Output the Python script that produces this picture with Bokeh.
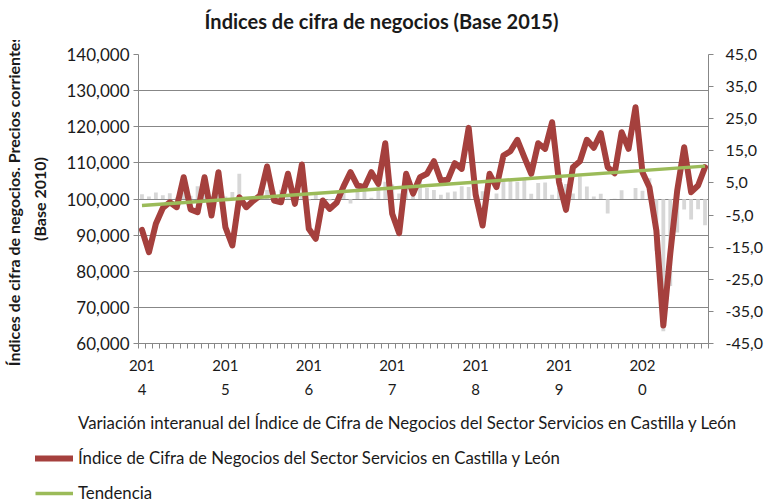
from bokeh.plotting import figure
from bokeh.models import (LinearAxis, Range1d, FixedTicker, Legend, LegendItem,
                          ColumnDataSource, Label)
from bokeh.embed import file_html
from bokeh.resources import INLINE

# ---------------- data ----------------
# monthly series, January 2014 .. October 2020
months = [f"{y}-{m:02d}" for y in range(2014, 2021) for m in range(1, 13)][:82]

indice = [
    91.47, 85.27, 93.13, 97.50, 99.10, 97.73, 106.03, 97.10, 96.34, 106.03, 95.43, 107.42,
    92.19, 87.13, 100.50, 97.73, 99.50, 100.97, 109.00, 99.58, 99.11, 106.98, 98.66, 109.55,
    91.75, 88.98, 99.58, 97.27, 98.94, 103.50, 107.42, 103.73, 103.27, 107.42, 104.20, 115.44,
    95.89, 90.53, 106.98, 101.50, 106.03, 106.98, 110.46, 105.12, 105.31, 109.91, 108.36, 119.70,
    101.24, 92.66, 106.98, 103.27, 112.04, 113.23, 116.39, 111.57, 106.98, 115.44, 113.90, 121.26,
    104.65, 97.00, 108.80, 110.46, 116.39, 114.17, 118.21, 108.80, 107.14, 118.50, 113.90, 125.42,
    107.42, 103.27, 91.27, 64.98, 84.83, 102.35, 114.34, 101.88, 103.73, 108.80,
]

variacion = [
    1.5, 0.8, 2.0, 1.2, 1.8, 0.5, 2.1, 1.0, 4.0, 2.4, 0.9, 1.7,
    0.8, 2.2, 7.9, 0.2, 0.4, 3.3, 2.8, 2.6, 2.9, 0.9, 3.4, 2.0,
    -0.5, 2.1, -0.9, -0.5, -0.6, 2.5, -1.4, 4.2, 4.2, 0.4, 5.6, 5.4,
    4.5, 1.7, 7.4, 4.3, 7.2, 3.4, 2.8, 1.3, 2.0, 2.3, 4.0, 3.7,
    5.6, 2.4, 0.0, 1.7, 5.7, 5.8, 5.4, 6.1, 1.6, 5.0, 5.1, 1.3,
    3.4, 4.7, 1.7, 7.0, 3.9, 0.8, 1.6, -4.5, 0.1, 2.7, 0.0, 3.4,
    2.6, 6.5, -16.1, -41.2, -27.1, -10.4, -3.3, -6.4, -3.2, -8.2,
]

tendencia_ini_fin = [98.2, 109.1]

year_top = ["201", "201", "201", "201", "201", "201", "202"]
year_bottom = ["4", "5", "6", "7", "8", "9", "0"]

left_ticks = [60, 70, 80, 90, 100, 110, 120, 130, 140]
left_labels = ["60,000", "70,000", "80,000", "90,000", "100,000",
               "110,000", "120,000", "130,000", "140,000"]
right_ticks = [-45, -35, -25, -15, -5, 5, 15, 25, 35, 45]
right_labels = ["-45,0", "-35,0", "-25,0", "-15,0", "-5,0",
                "5,0", "15,0", "25,0", "35,0", "45,0"]

title_text = "Índices de cifra de negocios (Base 2015)"
ylabel_1 = "Índices de cifra de negocios. Precios corrientes."
ylabel_2 = "(Base 2010)"
legend_labels = [
    "Variación interanual del Índice de Cifra de Negocios del Sector Servicios en Castilla y León",
    "Índice de Cifra de Negocios del Sector Servicios en Castilla y León",
    "Tendencia",
]

# ---------------- styling ----------------
FONT = "Lato"
RED = "#a5403d"
GREEN = "#9bbb59"
BAR = "#cdcdcd"
GRID = "#878787"
TXT = "#1a1a1a"

n = len(indice)
xs = list(range(n))
year_pos = [xs[i] for i in range(0, n, 12)]

# ---------------- title strip ----------------
tf = figure(width=765, height=40, output_backend="svg", toolbar_location=None,
            x_range=Range1d(0, 765), y_range=Range1d(0, 40), min_border=0,
            x_axis_type=None, y_axis_type=None, title_location=None)
tf.outline_line_color = None
tf.grid.visible = False
tf.border_fill_color = "white"
tf.background_fill_color = "white"
tf.add_layout(Label(x=381, y=20, text=title_text, text_align="center",
                    text_baseline="middle", text_font=FONT,
                    text_font_style="bold", text_font_size="20px",
                    text_color=TXT))

# ---------------- main chart ----------------
p = figure(width=765, height=363, output_backend="svg", toolbar_location=None,
           x_range=Range1d(-0.5, n - 0.5), y_range=Range1d(60, 140),
           min_border_left=138, min_border_right=0, min_border_top=14,
           min_border_bottom=60, title_location=None)
p.outline_line_color = None
p.background_fill_color = "white"
p.border_fill_color = "white"
p.extra_y_ranges = {"pct": Range1d(-45, 45)}

xa = p.below[0]
ya = p.left[0]

# grid
p.xgrid.visible = False
p.ygrid.ticker = FixedTicker(ticks=left_ticks)
p.ygrid.grid_line_color = GRID
p.ygrid.grid_line_width = 1

# left axis
ya.ticker = FixedTicker(ticks=left_ticks)
ya.major_label_overrides = {t: l for t, l in zip(left_ticks, left_labels)}
ya.axis_line_color = GRID
ya.major_tick_line_color = GRID
ya.major_tick_out = 5
ya.major_tick_in = 0
ya.minor_tick_line_color = None
ya.major_label_standoff = 4
ya.major_label_text_font = FONT
ya.major_label_text_font_size = "17px"
ya.major_label_text_color = TXT

# extra left "axes" carrying the two lines of the axis title
for txt, stand in [(ylabel_2, 15), (ylabel_1, 4)]:
    ax = LinearAxis(ticker=FixedTicker(ticks=[]), axis_label=txt,
                    axis_line_color=None, major_tick_line_color=None,
                    minor_tick_line_color=None, major_tick_out=0, major_tick_in=0,
                    minor_tick_out=0, minor_tick_in=0, major_label_standoff=0,
                    axis_label_standoff=stand, axis_label_text_font=FONT,
                    axis_label_text_font_style="bold",
                    axis_label_text_font_size="16px", axis_label_text_color=TXT)
    p.add_layout(ax, "left")

# right axis
ra = LinearAxis(y_range_name="pct", ticker=FixedTicker(ticks=right_ticks))
ra.major_label_overrides = {t: l for t, l in zip(right_ticks, right_labels)}
ra.axis_line_color = GRID
ra.major_tick_line_color = GRID
ra.major_tick_out = 5
ra.major_tick_in = 0
ra.minor_tick_line_color = None
ra.major_label_standoff = 12
ra.major_label_text_font = FONT
ra.major_label_text_font_size = "16px"
ra.major_label_text_color = TXT
p.add_layout(ra, "right")

# bottom axis (first line of the year labels + monthly tick marks)
xa.ticker = FixedTicker(ticks=year_pos, minor_ticks=[i - 0.5 for i in range(n + 1)])
xa.major_label_overrides = {t: l for t, l in zip(year_pos, year_top)}
xa.axis_line_color = GRID
xa.major_tick_line_color = None
xa.major_tick_out = 0
xa.major_tick_in = 0
xa.minor_tick_line_color = GRID
xa.minor_tick_out = 5
xa.minor_tick_in = 0
xa.major_label_standoff = 11
xa.major_label_text_font = FONT
xa.major_label_text_font_size = "15px"
xa.major_label_text_color = TXT

xb = LinearAxis(ticker=FixedTicker(ticks=year_pos))
xb.major_label_overrides = {t: l for t, l in zip(year_pos, year_bottom)}
xb.axis_line_color = None
xb.major_tick_line_color = None
xb.minor_tick_line_color = None
xb.major_tick_out = 0
xb.major_tick_in = 0
xb.minor_tick_out = 0
xb.major_label_standoff = 10
xb.major_label_text_font = FONT
xb.major_label_text_font_size = "15px"
xb.major_label_text_color = TXT
p.add_layout(xb, "below")

# glyphs
src = ColumnDataSource(dict(x=xs, mes=months, indice=indice, variacion=variacion))
p.vbar(x="x", top="variacion", bottom=0, width=0.55, source=src,
       y_range_name="pct", fill_color=BAR, fill_alpha=0.8, line_color=None)
p.line(x="x", y="indice", source=src, line_color=RED, line_width=6,
       line_join="round", line_cap="round")
p.line(x=[xs[0], xs[-1]], y=tendencia_ini_fin, line_color=GREEN, line_width=3.5)

# ---------------- legend (separate strip below the chart) ----------------
lg = figure(width=765, height=100, output_backend="svg", toolbar_location=None,
            x_range=Range1d(0, 1), y_range=Range1d(0, 1),
            min_border=0, x_axis_type=None, y_axis_type=None, title_location=None)
lg.outline_line_color = None
lg.grid.visible = False
lg.border_fill_color = "white"
lg.background_fill_color = "white"
# key renderers: data lies outside the visible range, only the legend shows them
k_bar = lg.vbar(x=[5], top=[6], bottom=5, width=0.1, fill_alpha=0, line_alpha=0)
k_red = lg.line(x=[5, 6], y=[5, 6], line_color=RED, line_width=6, line_cap="round")
k_green = lg.line(x=[5, 6], y=[5, 6], line_color=GREEN, line_width=3.5)

legend = Legend(items=[LegendItem(label=legend_labels[0], renderers=[k_bar]),
                       LegendItem(label=legend_labels[1], renderers=[k_red]),
                       LegendItem(label=legend_labels[2], renderers=[k_green])],
                location=(35, 0), orientation="vertical",
                glyph_width=38, glyph_height=18, label_height=18,
                label_standoff=5, spacing=14, padding=0, margin=0,
                border_line_color=None, background_fill_alpha=0,
                label_text_font=FONT, label_text_font_size="16.8px",
                label_text_color=TXT)
lg.add_layout(legend)

open("out.html", "w").write(file_html([tf, p, lg], INLINE))
